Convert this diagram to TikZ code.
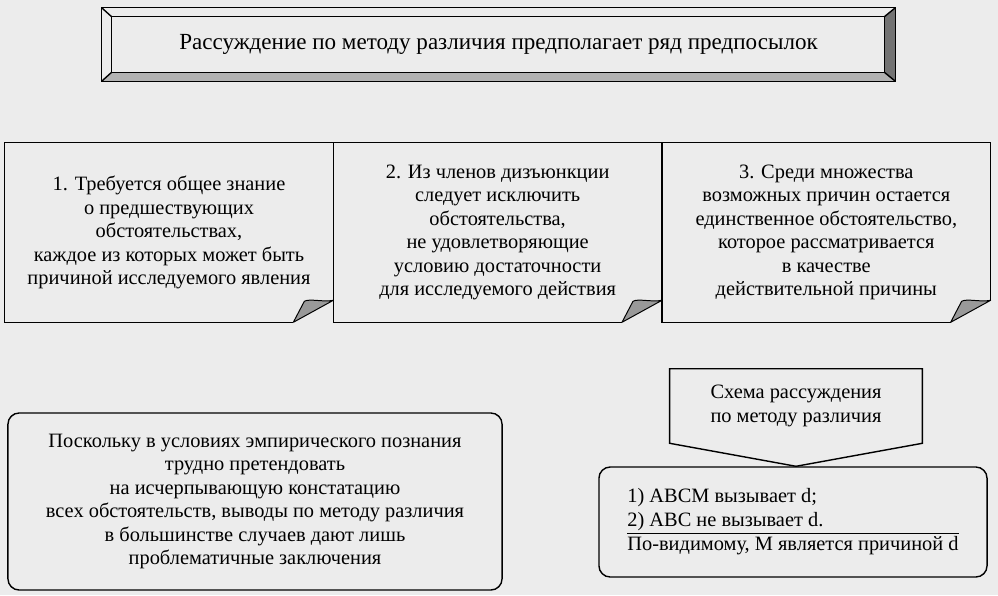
\documentclass[tikz,border=0pt]{standalone}
\usepackage{fontspec}
\setmainfont{Liberation Serif}
\usetikzlibrary{positioning}
\definecolor{paper}{RGB}{236,236,236}

\begin{document}
\begin{tikzpicture}[
    x=0.025cm, y=0.025cm,
    node distance=0cm,
    txt/.style={align=center, font=\fontsize{14.5}{16.7}\selectfont, inner sep=0pt},
    notebox/.style={txt, minimum width=8.2cm, minimum height=4.475cm},
    roundbox/.style={txt, draw, line width=1pt, rounded corners=8pt},
    frame/.style={line width=1pt, line join=miter},
    curl/.style={fill=black!40, line width=0.7pt, line join=round},
]
\fill[paper] (0,0) rectangle (998,595);
\useasboundingbox (0,0) rectangle (998,595);

% Title banner
\node[txt, font=\fontsize{16.4}{20}\selectfont, minimum width=19.825cm,
      minimum height=1.825cm] (title) at (498.5,550.5)
      {Рассуждение по методу различия предполагает ряд предпосылок};
\coordinate (tiNW) at ([shift={(10,-9)}]title.north west);
\coordinate (tiNE) at ([shift={(-11,-9)}]title.north east);
\coordinate (tiSE) at ([shift={(-11,9)}]title.south east);
\coordinate (tiSW) at ([shift={(10,9)}]title.south west);
\fill[black!30] (title.south west) -- (title.south east) -- (tiSE) -- (tiSW) -- cycle;
\fill[black!55] (title.south east) -- (title.north east) -- (tiNE) -- (tiSE) -- cycle;
\draw[frame] (title.north west) rectangle (title.south east);
\draw[frame] (tiNW) rectangle (tiSE);
\draw[frame] (title.north west) -- (tiNW) (title.north east) -- (tiNE)
             (title.south east) -- (tiSE) (title.south west) -- (tiSW);

% Premises
\node[notebox] (p1) at (169,362.5)
      {1. Требуется общее знание\\о предшествующих\\обстоятельствах,\\каждое из которых может быть\\причиной исследуемого явления};
\node[notebox, right=of p1] (p2)
      {2. Из членов дизъюнкции\\следует исключить\\обстоятельства,\\не удовлетворяющие\\условию достаточности\\для исследуемого действия};
\node[notebox, right=of p2] (p3)
      {3. Среди множества\\возможных причин остается\\единственное обстоятельство,\\которое рассматривается\\в качестве\\действительной причины};

% Folded corners
\foreach \p in {p1,p2,p3}{
  \draw[frame] ([shift={(0,22)}]\p.south east) -- (\p.north east) -- (\p.north west)
        -- (\p.south west) -- ([shift={(-40,0)}]\p.south east);
  \draw[curl] ([shift={(-40,0)}]\p.south east) -- ([shift={(-29,21)}]\p.south east)
        .. controls ([shift={(-24,24)}]\p.south east) and ([shift={(-10,20)}]\p.south east)
        .. ([shift={(0,22)}]\p.south east) -- cycle;
}

% Conclusion
\node[roundbox, minimum width=12.35cm, minimum height=4.425cm] (limit) at (255,93.5)
      {Поскольку в условиях эмпирического познания\\трудно претендовать\\на исчерпывающую констатацию\\всех обстоятельств, выводы по методу различия\\в большинстве случаев дают лишь\\проблематичные заключения};

% Scheme
\node[roundbox, minimum width=9.7cm, minimum height=2.75cm] (scheme) at (793,73)
      {\begin{tabular}{@{}l@{}}1) ABCM вызывает d;\\2) ABC не вызывает d.\\\hline
       По-видимому, M является причиной d\end{tabular}};
\node[txt, minimum width=6.3cm, minimum height=1.85cm] (schema) at (796,189)
      {Схема рассуждения\\по методу различия};
\draw[frame] (schema.south west) -- (schema.north west) -- (schema.north east)
      -- (schema.south east) -- (schema.south |- scheme.north) -- cycle;

\end{tikzpicture}
\end{document}
